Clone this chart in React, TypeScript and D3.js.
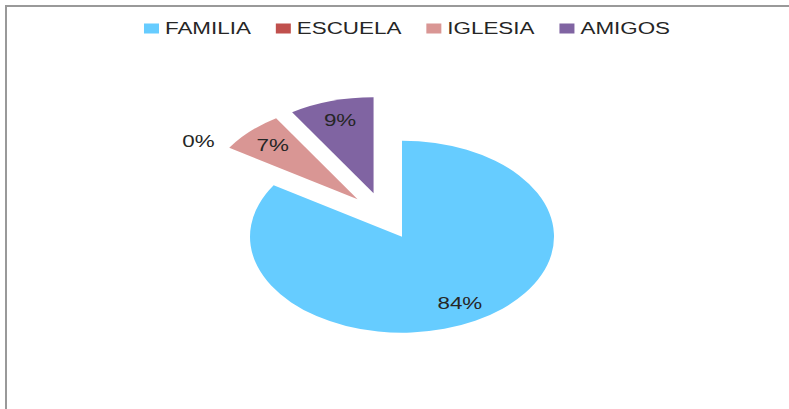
import React, { useEffect, useRef } from "react";
import * as d3 from "d3";

const categories = ["FAMILIA", "ESCUELA", "IGLESIA", "AMIGOS"];
const values = [84, 0, 7, 9];
const colors = ["#66CCFF", "#C0504D", "#D99694", "#8064A2"];

const W = 789;
const H = 409;

const App = () => {
  const svgRef = useRef<SVGSVGElement>(null);

  useEffect(() => {
    const svg = d3.select(svgRef.current);
    svg.selectAll("*").remove();

    // chart frame (only top and left edges are visible in the crop)
    svg
      .append("path")
      .attr("d", `M6,${H} L6,6 L${W},6`)
      .attr("fill", "none")
      .attr("stroke", "#999")
      .attr("stroke-width", 2);

    const cx = 384;
    const cy = 216;
    const ry = 96;
    const rx = 152;
    const sx = rx / ry;
    const explode = 23.6;
    const textScale = 1.4;

    const pie = d3
      .pie<number>()
      .sort(null)
      .value((d) => d);
    const arcs = pie(values);
    const arc = d3.arc<d3.PieArcDatum<number>>().innerRadius(0).outerRadius(ry);

    const dir = (a: d3.PieArcDatum<number>) => {
      const mid = (a.startAngle + a.endAngle) / 2;
      return [Math.sin(mid), -Math.cos(mid)];
    };

    const g = svg
      .append("g")
      .attr("transform", `translate(${cx},${cy}) scale(${sx},1)`);

    g.selectAll("path")
      .data(arcs)
      .join("path")
      .attr("d", arc)
      .attr("fill", (d, i) => colors[i])
      .attr("transform", (d) => {
        const [dx, dy] = dir(d);
        return `translate(${dx * explode},${dy * explode})`;
      });

    // data labels
    svg
      .append("g")
      .selectAll("text")
      .data(arcs)
      .join("text")
      .attr("transform", (d) => {
        const [dx, dy] = dir(d);
        const r = explode + (d.value === 0 ? 1.2 : 0.79) * ry;
        return `translate(${cx + dx * r * sx},${cy + dy * r}) scale(${textScale},1)`;
      })
      .attr("text-anchor", "middle")
      .attr("dy", "0.36em")
      .attr("font-family", "'Liberation Sans', Arial, sans-serif")
      .attr("font-size", 16)
      .attr("fill", "#262626")
      .text((d) => `${d.value}%`);

    // legend
    const legend = svg.append("g");
    const items = legend
      .selectAll("g")
      .data(categories)
      .join("g");
    items
      .append("rect")
      .attr("width", 15)
      .attr("height", 10)
      .attr("y", -5)
      .attr("fill", (d, i) => colors[i]);
    items
      .append("text")
      .attr("transform", `translate(21,0) scale(${textScale},1)`)
      .attr("dy", "0.36em")
      .attr("font-family", "'Liberation Sans', Arial, sans-serif")
      .attr("font-size", 16)
      .attr("fill", "#262626")
      .text((d) => d);

    const gap = 25;
    let x = 0;
    const offsets: number[] = [];
    items.each(function () {
      offsets.push(x);
      const t = d3.select(this).select("text").node() as SVGTextElement;
      x += 21 + t.getComputedTextLength() * textScale + gap;
    });
    const total = x - gap;
    const start = 407 - total / 2;
    items.attr("transform", (d, i) => `translate(${start + offsets[i]},28.5)`);
  }, []);

  return (
    <svg
      ref={svgRef}
      width={W}
      height={H}
      style={{ position: "absolute", left: 0, top: 0, background: "#fff" }}
    />
  );
};

export default App;
